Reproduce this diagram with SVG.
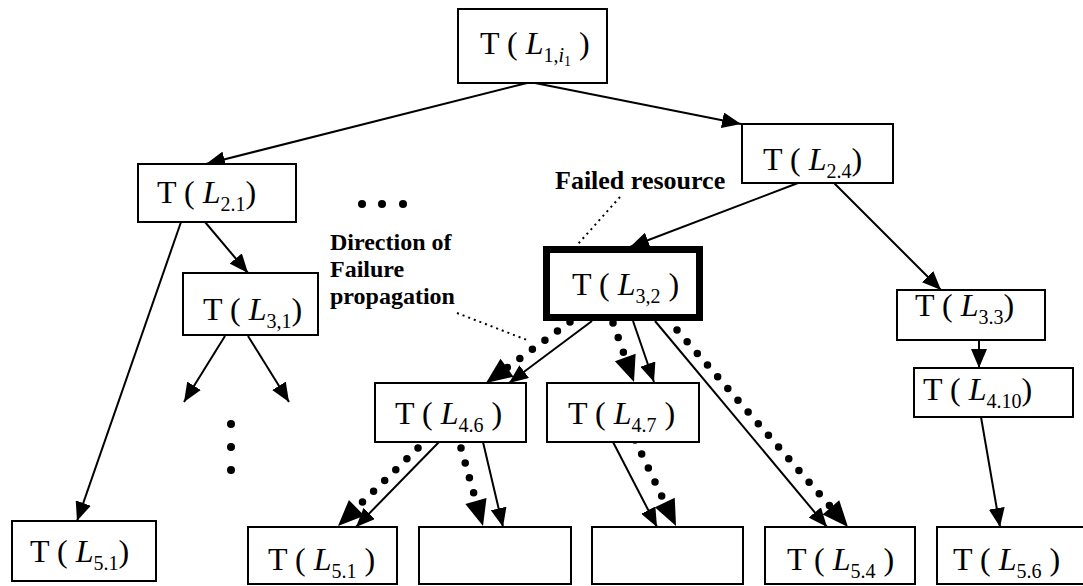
<svg xmlns="http://www.w3.org/2000/svg" width="1083" height="586" viewBox="0 0 1083 586">
  <style>
    .box { fill: #fff; stroke: #000; stroke-width: 2; }
    .thick { fill: #fff; stroke: #000; stroke-width: 7; }
    .t { font-family: "Liberation Serif", "Times New Roman", serif; font-size: 32px; fill: #000; }
    .it { font-style: italic; }
    .sub { font-size: 20px; }
    .subsub { font-size: 14px; }
    .note { font-family: "Liberation Serif", "Times New Roman", serif; font-weight: bold; fill: #000; }
    .edge { fill: none; stroke: #000; stroke-width: 2; marker-end: url(#head); }
    .flow { fill: none; stroke: #000; stroke-width: 7.5; stroke-linecap: round; stroke-dasharray: 0 15.5; marker-end: url(#bighead); }
    .leader { fill: none; stroke: #000; stroke-width: 2; stroke-dasharray: 2 4; }
    .dot { fill: #000; }
  </style>
  <defs>
    <marker id="head" markerUnits="userSpaceOnUse" markerWidth="20" markerHeight="16" refX="19" refY="8" orient="auto">
      <path d="M0,0 L19,8 L0,16 z" fill="#000"/>
    </marker>
    <!-- head sits 14px past the end of a dotted path so no dot pokes out of it -->
    <marker id="bighead" markerUnits="userSpaceOnUse" markerWidth="27" markerHeight="22" refX="12" refY="11" orient="auto" overflow="visible">
      <path d="M0,0 L26,11 L0,22 z" fill="#000"/>
    </marker>
  </defs>
  <rect width="1083" height="586" fill="#fff"/>

  <!-- connectors -->
  <g id="connectors">
    <path class="edge" d="M527,83 L206,164"/>
    <path class="edge" d="M535,83 L741,124"/>
    <path class="edge" d="M181,222 L77,521"/>
    <path class="edge" d="M205,222 L248,273"/>
    <path class="edge" d="M225,336 L184,402"/>
    <path class="edge" d="M248,336 L289,402"/>
    <path class="edge" d="M798,183 L630,247"/>
    <path class="edge" d="M834,183 L941,290"/>
    <path class="edge" d="M979,340 L979,368"/>
    <path class="edge" d="M981,417 L1000,527"/>
    <path class="edge" d="M592,321 L509,383"/>
    <path class="edge" d="M633,321 L654,382"/>
    <path class="edge" d="M655,321 L827,527"/>
    <path class="edge" d="M439,442 L356,527"/>
    <path class="edge" d="M483,442 L503,527"/>
    <path class="edge" d="M613,442 L657,527"/>

    <!-- failure propagation paths -->
    <path class="flow" d="M570,322 L497.3,374.8"/>
    <path class="flow" d="M613,323 L629.3,368.8"/>
    <path class="flow" d="M677,330 L838.8,516.4"/>
    <path class="flow" d="M418,448 L348,516.2"/>
    <path class="flow" d="M461,448 L479.2,512.5"/>
    <path class="flow" d="M635,440 L670,513.4"/>

    <!-- annotation leaders -->
    <path class="leader" d="M620,197 L578,244"/>
    <path class="leader" d="M457,313 L527,340"/>
  </g>

  <!-- nodes -->
  <g id="n-root">
    <rect class="box" x="458" y="9" width="149" height="74"/>
    <text class="t" x="480" y="54">T ( <tspan class="it">L</tspan><tspan class="sub" dy="8">1,<tspan class="it">i</tspan></tspan><tspan class="subsub" dy="4">1</tspan><tspan dy="-12"> )</tspan></text>
  </g>
  <g id="n-2-1">
    <rect class="box" x="138" y="164" width="158" height="58"/>
    <text class="t" x="157" y="203">T ( <tspan class="it">L</tspan><tspan class="sub" dy="8">2.1</tspan><tspan dy="-8">)</tspan></text>
  </g>
  <g id="n-2-4">
    <rect class="box" x="742" y="124" width="151" height="59"/>
    <text class="t" x="763" y="170">T ( <tspan class="it">L</tspan><tspan class="sub" dy="8">2.4</tspan><tspan dy="-8">)</tspan></text>
  </g>
  <g id="n-3-1">
    <rect class="box" x="183" y="273" width="135" height="62"/>
    <text class="t" x="203" y="320">T ( <tspan class="it">L</tspan><tspan class="sub" dy="8">3,1</tspan><tspan dy="-8">)</tspan></text>
  </g>
  <g id="n-3-2">
    <rect class="thick" x="546.5" y="249.5" width="153" height="68"/>
    <text class="t" x="572" y="295">T ( <tspan class="it">L</tspan><tspan class="sub" dy="8">3,2</tspan><tspan dy="-8"> )</tspan></text>
  </g>
  <g id="n-3-3">
    <rect class="box" x="897" y="290" width="148" height="50"/>
    <text class="t" x="915" y="316">T ( <tspan class="it">L</tspan><tspan class="sub" dy="8">3.3</tspan><tspan dy="-8">)</tspan></text>
  </g>
  <g id="n-4-10">
    <rect class="box" x="914" y="368" width="159" height="49"/>
    <text class="t" x="923" y="400">T ( <tspan class="it">L</tspan><tspan class="sub" dy="8">4.10</tspan><tspan dy="-8">)</tspan></text>
  </g>
  <g id="n-4-6">
    <rect class="box" x="375" y="383" width="151" height="59"/>
    <text class="t" x="395" y="424">T ( <tspan class="it">L</tspan><tspan class="sub" dy="8">4.6</tspan><tspan dy="-8"> )</tspan></text>
  </g>
  <g id="n-4-7">
    <rect class="box" x="547" y="383" width="152" height="59"/>
    <text class="t" x="568" y="424">T ( <tspan class="it">L</tspan><tspan class="sub" dy="8">4.7</tspan><tspan dy="-8"> )</tspan></text>
  </g>
  <g id="n-5-1-left">
    <rect class="box" x="12" y="521" width="144" height="60"/>
    <text class="t" x="30" y="562">T ( <tspan class="it">L</tspan><tspan class="sub" dy="8">5.1</tspan><tspan dy="-8">)</tspan></text>
  </g>
  <g id="n-5-1">
    <rect class="box" x="248" y="527" width="149" height="57"/>
    <text class="t" x="268" y="570">T ( <tspan class="it">L</tspan><tspan class="sub" dy="8">5.1</tspan><tspan dy="-8"> )</tspan></text>
  </g>
  <g id="n-5-2">
    <rect class="box" x="419" y="527" width="152" height="57"/>
  </g>
  <g id="n-5-3">
    <rect class="box" x="592" y="527" width="151" height="57"/>
  </g>
  <g id="n-5-4">
    <rect class="box" x="765" y="527" width="150" height="57"/>
    <text class="t" x="787" y="570">T ( <tspan class="it">L</tspan><tspan class="sub" dy="8">5.4</tspan><tspan dy="-8"> )</tspan></text>
  </g>
  <g id="n-5-6">
    <rect class="box" x="937" y="527" width="150" height="57"/>
    <text class="t" x="953" y="570">T ( <tspan class="it">L</tspan><tspan class="sub" dy="8">5.6</tspan><tspan dy="-8"> )</tspan></text>
  </g>

  <!-- annotations -->
  <g id="labels">
    <text class="note" x="555" y="189" font-size="26">Failed resource</text>
    <text class="note" x="330" y="250" font-size="24">Direction of</text>
    <text class="note" x="330" y="277" font-size="24">Failure</text>
    <text class="note" x="330" y="304" font-size="24">propagation</text>
  </g>

  <!-- ellipses -->
  <g id="ellipses">
    <circle class="dot" cx="362" cy="204" r="4"/>
    <circle class="dot" cx="382" cy="204" r="4"/>
    <circle class="dot" cx="403" cy="204" r="4"/>
    <circle class="dot" cx="231" cy="424" r="4"/>
    <circle class="dot" cx="231" cy="447" r="4"/>
    <circle class="dot" cx="231" cy="470" r="4"/>
  </g>
</svg>
